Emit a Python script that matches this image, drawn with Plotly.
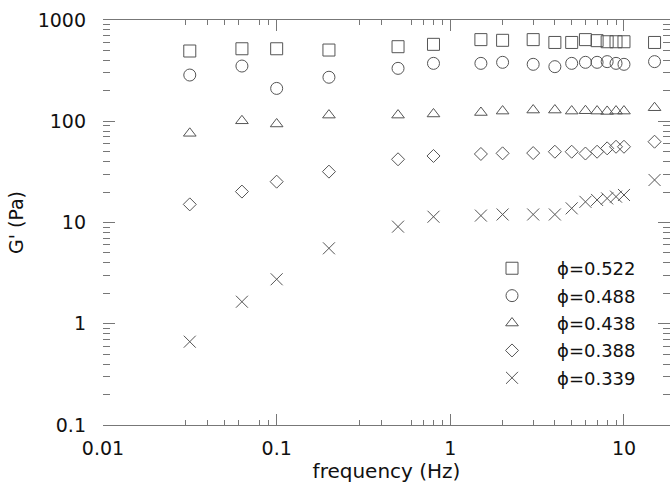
import plotly.graph_objects as go

freq = [0.0316, 0.0631, 0.1, 0.2, 0.5, 0.8, 1.5, 2, 3, 4, 5, 6, 7, 8, 9, 10, 15]

g_0522 = [494, 520, 520, 505, 545, 575, 640, 630, 640, 600, 600, 640, 625, 610, 610, 610, 600]
g_0488 = [286, 351, 211, 272, 333, 373, 373, 382, 365, 346, 373, 382, 382, 388, 373, 365, 388]
g_0438 = [76, 101, 94, 115, 115, 118, 122, 126, 129, 129, 126, 127, 126, 125, 126, 126, 136]
g_0388 = [15.1, 20.2, 25.3, 31.8, 42.1, 45.4, 47.5, 48.2, 48.5, 50, 50, 48, 50, 54, 56, 56, 62.8]
g_0339 = [0.665, 1.65, 2.75, 5.56, 9.1, 11.4, 11.7, 12.0, 12.0, 12.0, 13.8, 16.0, 16.7, 17.3, 18.0, 18.7, 26.3]

series_names = ["ϕ=0.522", "ϕ=0.488", "ϕ=0.438", "ϕ=0.388", "ϕ=0.339"]
series_vals = [g_0522, g_0488, g_0438, g_0388, g_0339]
symbols = ["square-open", "circle-open", "triangle-up-open", "diamond-open", "x-thin-open"]
sizes = [12, 12, 11, 10, 12]

x_tickvals = [0.01, 0.1, 1, 10]
x_ticktext = ["0.01", "0.1", "1", "10"]
x_minor = [0.03, 0.04, 0.05, 0.06, 0.08, 0.09, 0.3, 0.4, 0.6, 0.7, 0.8, 0.9,
           2, 3, 4, 5, 6, 7, 8, 9]
y_tickvals = [0.1, 1, 10, 100, 1000]
y_ticktext = ["0.1", "1", "10", "100", "1000"]
y_minor = [m * d for d in (0.1, 1, 10, 100) for m in (2, 3, 4, 5, 6, 7, 8, 9)]

FONT = "DejaVu Sans"
AX = "#777777"
MK = "#555555"

fig = go.Figure()
for name, vals, sym, sz in zip(series_names, series_vals, symbols, sizes):
    fig.add_trace(go.Scatter(
        x=freq, y=vals, mode="markers", name=name, legendgroup=name,
        marker=dict(symbol=sym, size=sz, color=MK, line=dict(width=1, color=MK)),
    ))

fig.update_layout(
    template="none",
    width=670, height=483,
    margin=dict(l=103, r=0, t=20, b=58),
    paper_bgcolor="white", plot_bgcolor="white",
    font=dict(family=FONT, size=18, color="#111"),
    showlegend=True,
    legend=dict(
        x=0.642, y=0.432, xanchor="left", yanchor="top",
        bgcolor="rgba(0,0,0,0)", borderwidth=0,
        itemwidth=80, tracegroupgap=1,
        font=dict(family=FONT, size=18, color="#111"),
    ),
)

fig.update_xaxes(
    type="log", range=[-2, 1.265],
    tickmode="array", tickvals=x_tickvals, ticktext=x_ticktext,
    ticks="inside", ticklen=11, tickwidth=1, tickcolor=AX,
    showline=True, linecolor=AX, linewidth=1, mirror="ticks",
    showgrid=False, zeroline=False,
    minor=dict(tickmode="array", tickvals=x_minor, ticks="inside", ticklen=5,
               tickwidth=1, tickcolor=AX, showgrid=False),
    title=dict(text="frequency (Hz)", font=dict(family=FONT, size=20), standoff=3),
    tickfont=dict(family=FONT, size=19),
    ticklabelstandoff=6,
)

fig.update_yaxes(
    type="log", range=[-1, 3],
    tickmode="array", tickvals=y_tickvals, ticktext=y_ticktext,
    ticks="inside", ticklen=12, tickwidth=1, tickcolor=AX,
    showline=False, mirror="ticks",
    showgrid=False, zeroline=False,
    minor=dict(tickmode="array", tickvals=y_minor, ticks="inside", ticklen=7,
               tickwidth=1, tickcolor=AX, showgrid=False),
    title=dict(text="G' (Pa)", font=dict(family=FONT, size=19), standoff=8),
    tickfont=dict(family=FONT, size=19),
    ticklabelstandoff=16,
)

fig.write_html("out.html")
